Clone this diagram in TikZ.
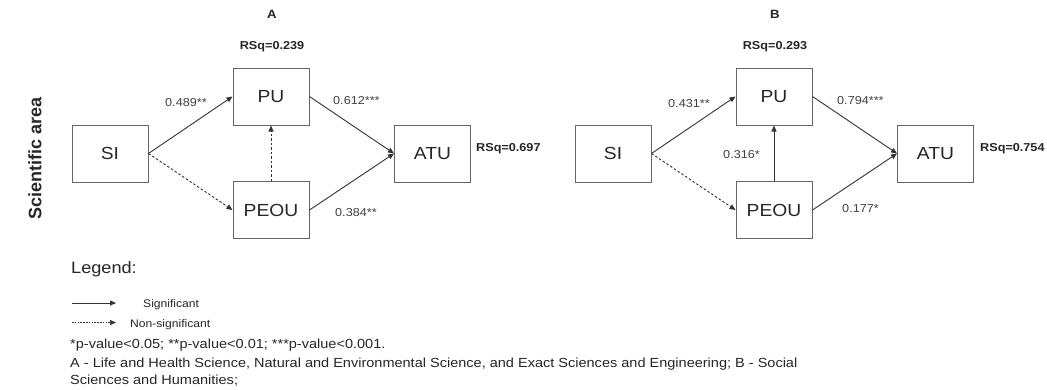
\documentclass[tikz,border=0pt]{standalone}
\usepackage{fontspec}
\setmainfont{Liberation Sans}[FakeStretch=1.1]
\newfontfamily\plainsans{Liberation Sans}
\usetikzlibrary{arrows.meta}

\begin{document}
\begin{tikzpicture}[x=1pt,y=-1pt,
  var/.style={draw=black!60, line width=1pt, minimum width=76pt, minimum height=57pt,
    inner sep=0pt, font=\fontsize{17.5}{20}\selectfont, text=black!85},
  coef/.style={font=\fontsize{11.5}{13}\selectfont, text=black!75, inner sep=0pt},
  rsq/.style={font=\bfseries\fontsize{11.5}{13}\selectfont, text=black!85, inner sep=0pt},
  panel/.style={font=\bfseries\fontsize{12}{14}\selectfont, text=black!85, inner sep=0pt},
  sig/.style={draw=black!80, line width=0.9pt, -{Triangle[length=6pt,width=5pt]}},
  nonsig/.style={sig, dash pattern=on 2.5pt off 2pt},
  legtxt/.style={anchor=base west, inner sep=0pt, text=black!85},
  notetxt/.style={legtxt, font=\fontsize{13.2}{16}\selectfont},
]
\useasboundingbox (0,0) rectangle (1047,389);

% row label
\node[rotate=90, anchor=base, inner sep=0pt, text=black!85,
  font=\plainsans\bfseries\fontsize{18}{20}\selectfont] (area) at (41.5,158) {Scientific area};

% panel A
\begin{scope}
  \node[panel] (titleA) at (272,14) {A};
  \node[var] (siA)   at (110,153.5) {SI};
  \node[var] (puA)   at (271,96.5)  {PU};
  \node[var] (peouA) at (271,210)   {PEOU};
  \node[var] (atuA)  at (432.5,153.5) {ATU};
  \node[rsq] (rsqpuA) at (272,47) {RSq=0.239};
  \node[rsq, anchor=west] (rsqatuA) at (476,149) {RSq=0.697};
  \draw[sig]    (siA.east)   -- (puA.west);
  \draw[nonsig] (siA.east)   -- (peouA.west);
  \draw[sig]    (puA.east)   -- (atuA.west);
  \draw[sig]    (peouA.east) -- (atuA.west);
  \draw[nonsig] (peouA.north) -- (puA.south);
  \node[coef, anchor=west] (cA1) at (165,103) {0.489**};
  \node[coef, anchor=west] (cA2) at (333,100.7) {0.612***};
  \node[coef, anchor=west] (cA3) at (335,213) {0.384**};
\end{scope}

% panel B
\begin{scope}[shift={(503,0)}]
  \node[panel] (titleB) at (272,14) {B};
  \node[var] (siB)   at (110,153.5) {SI};
  \node[var] (puB)   at (271,96.5)  {PU};
  \node[var] (peouB) at (271,210)   {PEOU};
  \node[var] (atuB)  at (432.5,153.5) {ATU};
  \node[rsq] (rsqpuB) at (272,47) {RSq=0.293};
  \node[rsq, anchor=west] (rsqatuB) at (477,149) {RSq=0.754};
  \draw[sig]    (siB.east)   -- (puB.west);
  \draw[nonsig] (siB.east)   -- (peouB.west);
  \draw[sig]    (puB.east)   -- (atuB.west);
  \draw[sig]    (peouB.east) -- (atuB.west);
  \draw[sig]    (peouB.north) -- (puB.south);
  \node[coef, anchor=west] (cB1) at (165,104) {0.431**};
  \node[coef, anchor=west] (cB2) at (334,100.8) {0.794***};
  \node[coef, anchor=east] (cB3) at (257,154.6) {0.316*};
  \node[coef, anchor=west] (cB4) at (339,209) {0.177*};
\end{scope}

% legend
\node[legtxt, font=\fontsize{16.5}{19}\selectfont] (legend) at (71,273) {Legend:};
\coordinate (sigS) at (72,303);
\coordinate (sigE) at (116,303);
\coordinate (nsS) at (72,322.5);
\coordinate (nsE) at (116,322.5);
\draw[sig, line width=0.8pt] (sigS) -- (sigE);
\draw[sig, line width=0.7pt, dash pattern=on 1.5pt off 1.3pt] (nsS) -- (nsE);
\node[legtxt, font=\fontsize{11}{13}\selectfont] (sigtxt) at (143,307) {Significant};
\node[legtxt, font=\fontsize{11}{13}\selectfont] (nstxt) at (130,327) {Non-significant};

% notes
\node[notetxt] (note1) at (70,348.5)
  {*p-value<0.05; **p-value<0.01; ***p-value<0.001.};
\node[notetxt] (note2) at (70,367)
  {A - Life and Health Science, Natural and Environmental Science, and Exact Sciences and Engineering; B - Social};
\node[notetxt] (note3) at (70,384)
  {Sciences and Humanities;};
\end{tikzpicture}
\end{document}
